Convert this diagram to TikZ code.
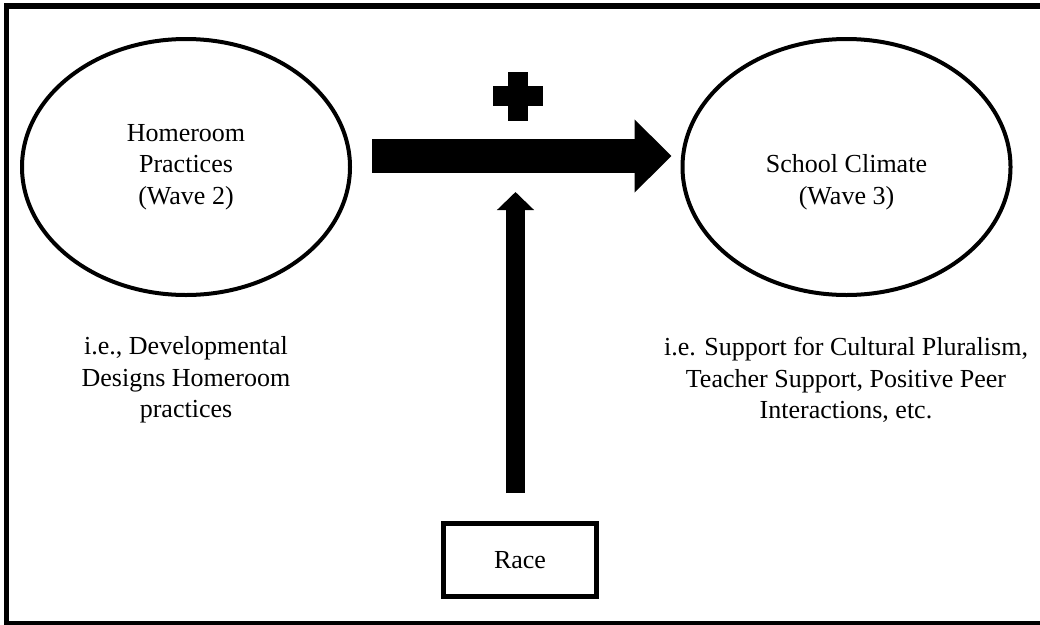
\documentclass[tikz,border=0pt]{standalone}
\usepackage{fontspec}
\setmainfont{Liberation Serif}
\usetikzlibrary{arrows.meta,shapes.geometric}

\begin{document}
\begin{tikzpicture}[x=1pt, y=-1pt,
        oval node/.style={ellipse, draw, line width=4pt, minimum width=328pt, minimum height=256pt,
            inner sep=0pt, align=center, font=\fontsize{26pt}{31.5pt}\selectfont},
        box node/.style={rectangle, draw, line width=5pt, minimum width=153pt, minimum height=73pt,
            font=\fontsize{26pt}{31.5pt}\selectfont},
        note/.style={align=center, font=\fontsize{26pt}{31.5pt}\selectfont},
        fat arrow/.style={line width=34pt, -{Triangle[length=37pt,width=71pt]}},
        thin arrow/.style={line width=19pt, -{Triangle[length=18pt,width=36pt]}}]

    \useasboundingbox (0,0) rectangle (1040,624);

    % Rahmen
    \draw[line width=5.5pt] (6.5,6) rectangle (1046,624);

    % Knoten
    \node[oval node] (home) at (186,167) {Homeroom\\Practices\\(Wave 2)};
    \node[oval node] (climate) at (846.5,167) {\vphantom{Homeroom}\\School Climate\\(Wave 3)};
    \node[box node] (race) at (520,560) {Race};
    \node[note] (homenote) at (186,380) {i.e., Developmental\\Designs Homeroom\\practices};
    \node[note] (climatenote) at (846,380) {i.e. Support for Cultural Pluralism,\\Teacher Support, Positive Peer\\Interactions, etc.};

    % Plus
    \fill (508,72) rectangle (528,121);
    \fill (493,86) rectangle (543,106);

    % Pfeile
    \coordinate (hstart) at ([xshift=20pt,yshift=11pt]home.east);
    \coordinate (hend) at ([xshift=-9pt,yshift=11pt]climate.west);
    \coordinate (vstart) at ([xshift=-4.5pt,yshift=28pt]race.north);
    \coordinate (vend) at (515.5,192);
    \draw[fat arrow] (hstart) -- (hend);
    \draw[thin arrow] (vstart) -- (vend);
\end{tikzpicture}
\end{document}
